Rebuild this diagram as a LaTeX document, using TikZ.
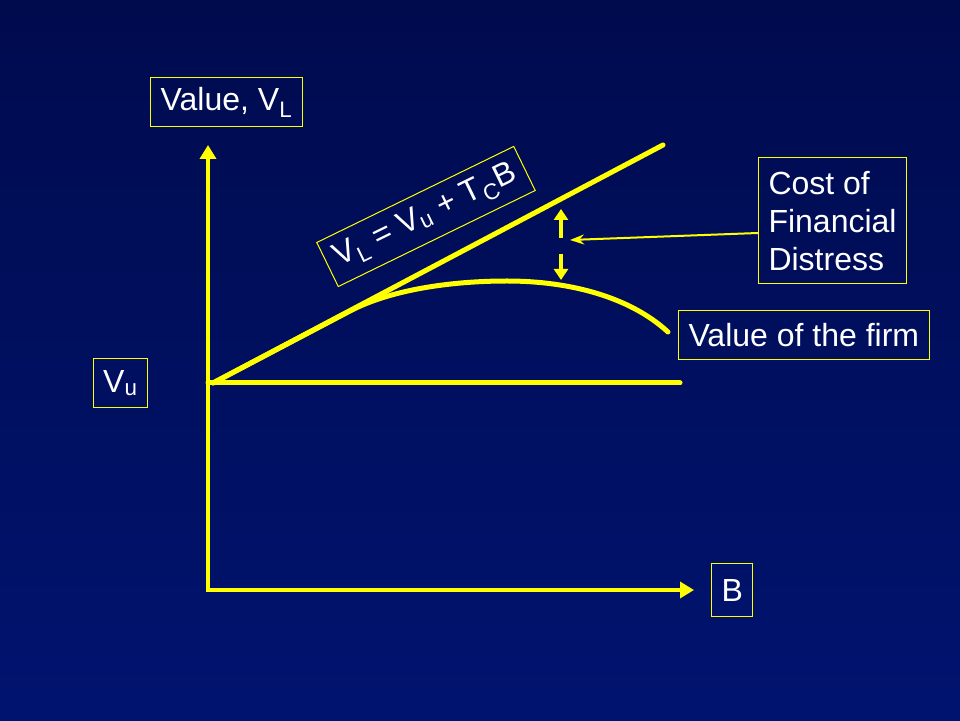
\documentclass[tikz,border=0pt]{standalone}
\usepackage{fontspec}
\setmainfont{Liberation Sans}
\usetikzlibrary{arrows.meta, positioning, calc}
\definecolor{slidetop}{HTML}{000B4E}
\definecolor{slidebot}{HTML}{00136F}
\definecolor{plotyel}{HTML}{FFFF00}

\begin{document}
\begin{tikzpicture}[x=1pt, y=1pt, node distance=10pt and 17pt,
	lbl/.style={draw=plotyel, line width=1pt, text=white, inner xsep=10pt, minimum height=49pt, font=\fontsize{32}{38}\selectfont},
	axis/.style={plotyel, line width=4pt, line join=miter, {Triangle[length=14pt,width=16pt]}-{Triangle[length=14pt,width=16pt]}},
	curve/.style={plotyel, line width=5pt, line cap=round},
	gaparrow/.style={plotyel, line width=4pt, -{Triangle[length=11pt,width=14pt]}},
	pointer/.style={plotyel, line width=2pt, -{Stealth[length=14pt,width=10pt]}}]
	\shade[top color=slidetop, bottom color=slidebot] (0,0) rectangle (960,720);
	\useasboundingbox (0,0) rectangle (960,720);

	% axes
	\coordinate (O)    at (208,130);
	\coordinate (ytip) at (208,575);
	\coordinate (xtip) at (694,130);
	\draw[axis] (ytip) -- (O) -- (xtip);

	% lines and curve
	\coordinate (vu0)  at (208,337);
	\coordinate (vu1)  at (680,337);
	\coordinate (vl0)  at (213,337);
	\coordinate (vl1)  at (663,575);
	\coordinate (fend) at (668,388);
	\draw[curve] (vu0) -- (vu1);
	\draw[curve] (vl0) -- (vl1);
	\draw[curve] (vl0) -- (350,409) .. controls (390,430) and (450,439) .. (507,439)
		.. controls (570,439) and (630,423) .. (fend);

	% gap arrows
	\coordinate (upfoot) at (561,482);
	\coordinate (uptip)  at (561,511);
	\coordinate (dnfoot) at (561,466);
	\coordinate (dntip)  at (561,440);
	\coordinate (gapmid) at (570,480);
	\draw[gaparrow] (upfoot) -- (uptip);
	\draw[gaparrow] (dnfoot) -- (dntip);

	% labels
	\node[lbl] (vl) at (226.5,617.5) {Value, V\textsubscript{L}};
	\node[lbl, left=60pt of vu0] (Vu) {V\textsubscript{u}};
	\node[lbl, minimum height=53pt, right=of xtip] (B) {B};
	\node[lbl, anchor=west] (firm) at (678,385) {Value of the firm};
	\node[lbl, align=left, minimum height=126pt, anchor=west] (cost) at (758,499) {Cost of\\Financial\\Distress};
	\node[lbl, rotate=26] (eq) at (426,503.5) {V\textsubscript{L} = V\textsubscript{u} + T\textsubscript{C}B};

	\draw[pointer] ([yshift=-12pt]cost.west) -- (gapmid);

\end{tikzpicture}
\end{document}
